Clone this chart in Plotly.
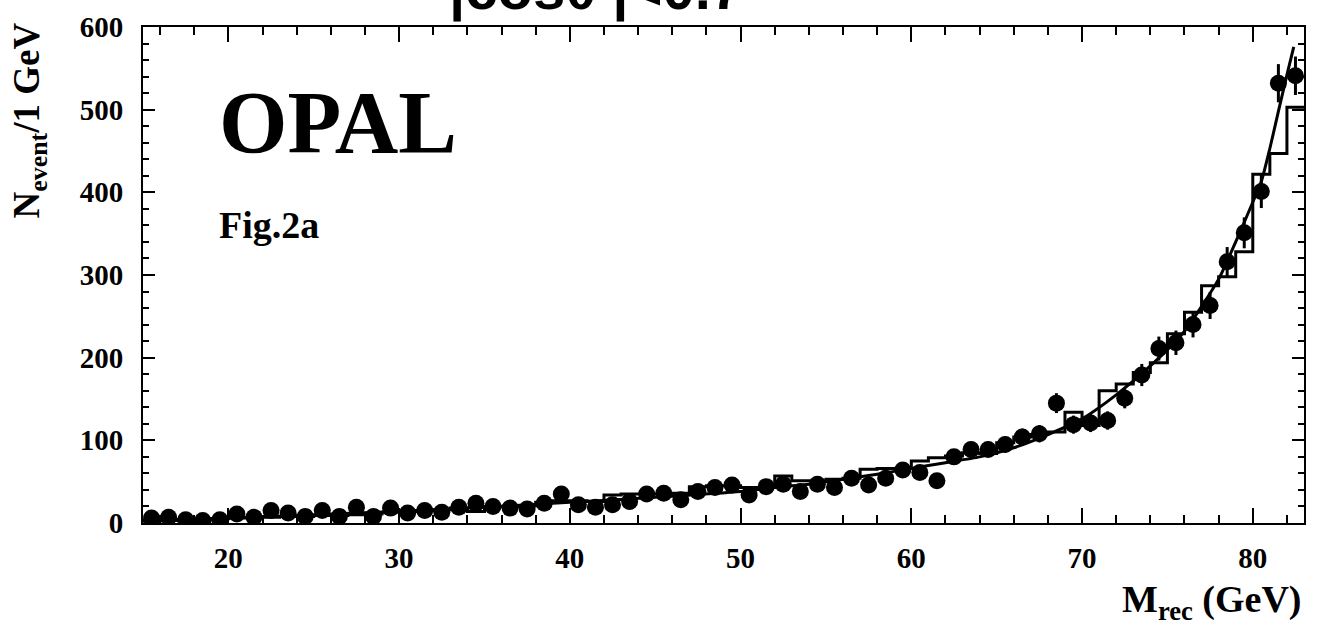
import plotly.graph_objects as go

# ---- data ----
mass = [15.5, 16.5, 17.5, 18.5, 19.5, 20.5, 21.5, 22.5, 23.5, 24.5,
        25.5, 26.5, 27.5, 28.5, 29.5, 30.5, 31.5, 32.5, 33.5, 34.5,
        35.5, 36.5, 37.5, 38.5, 39.5, 40.5, 41.5, 42.5, 43.5, 44.5,
        45.5, 46.5, 47.5, 48.5, 49.5, 50.5, 51.5, 52.5, 53.5, 54.5,
        55.5, 56.5, 57.5, 58.5, 59.5, 60.5, 61.5, 62.5, 63.5, 64.5,
        65.5, 66.5, 67.5, 68.5, 69.5, 70.5, 71.5, 72.5, 73.5, 74.5,
        75.5, 76.5, 77.5, 78.5, 79.5, 80.5, 81.5, 82.5]

data_counts = [6, 7, 4, 3, 4, 11, 7, 15, 12, 8,
               15, 8, 19, 8, 18, 12, 15, 13, 19, 24,
               20, 18, 17, 24, 35, 22, 19, 22, 26, 35,
               36, 28, 38, 43, 46, 34, 44, 47, 38, 47,
               43, 54, 46, 54, 64, 61, 51, 80, 89, 89,
               95, 104, 108, 145, 119, 121, 124, 151, 179, 211,
               218, 240, 263, 316, 351, 401, 532, 541]

data_errors = [2.4, 2.6, 2.0, 1.7, 2.0, 3.3, 2.6, 3.9, 3.5, 2.8,
               3.9, 2.8, 4.4, 2.8, 4.2, 3.5, 3.9, 3.6, 4.4, 4.9,
               4.5, 4.2, 4.1, 4.9, 5.9, 4.7, 4.4, 4.7, 5.1, 5.9,
               6.0, 5.3, 6.2, 6.6, 6.8, 5.8, 6.6, 6.9, 6.2, 6.9,
               6.6, 7.3, 6.8, 7.3, 8.0, 7.8, 7.1, 8.9, 9.4, 9.4,
               9.7, 10.2, 10.4, 12.0, 10.9, 11.0, 11.1, 12.3, 13.4, 14.5,
               14.8, 15.5, 16.2, 17.8, 18.7, 20.0, 23.1, 23.3]

bin_edges = [15, 16, 17, 18, 19, 20, 21, 22, 23, 24, 25, 26, 27, 28, 29,
             30, 31, 32, 33, 34, 35, 36, 37, 38, 39, 40, 41, 42, 43, 44,
             45, 46, 47, 48, 49, 50, 51, 52, 53, 54, 55, 56, 57, 58, 59,
             60, 61, 62, 63, 64, 65, 66, 67, 68, 69, 70, 71, 72, 73, 74,
             75, 76, 77, 78, 79, 80, 81, 82, 83]

mc_counts = [2, 3, 3, 4, 5, 6, 6, 7, 8, 8,
             9, 9, 10, 11, 13, 14, 15, 16, 18, 14,
             20, 20, 21, 25, 27, 27, 26, 34, 35, 35,
             35, 36, 44, 45, 45, 43, 43, 57, 51, 51,
             53, 54, 65, 66, 66, 75, 79, 81, 85, 84,
             97, 104, 107, 110, 134, 118, 160, 168, 182, 194,
             229, 255, 287, 298, 328, 422, 447, 503]

fit_x = [15, 20, 25, 30, 35, 40, 45, 50, 52, 54, 56, 58, 60, 62, 64, 66,
         68, 70, 72, 74, 76, 78, 79, 80, 80.5, 81, 81.5, 82, 82.4]
fit_y = [3, 6, 10, 14, 19, 25, 31, 38, 43, 47, 53, 59, 66, 73, 80, 91,
         107, 126, 155, 190, 232, 295, 340, 388, 413, 453, 498, 542, 576]

x_ticks = [20, 30, 40, 50, 60, 70, 80]
y_ticks = [0, 100, 200, 300, 400, 500, 600]

SERIF = "Liberation Serif"

fig = go.Figure()

# MC histogram (step line)
fig.add_trace(go.Scatter(
    x=bin_edges, y=mc_counts + [mc_counts[-1]],
    mode="lines", line=dict(color="black", width=3, shape="hv"),
    showlegend=False, hoverinfo="skip"))

# fit curve
fig.add_trace(go.Scatter(
    x=fit_x, y=fit_y, mode="lines",
    line=dict(color="black", width=3, shape="spline", smoothing=0.6),
    showlegend=False, hoverinfo="skip"))

# data points
fig.add_trace(go.Scatter(
    x=mass, y=data_counts, mode="markers",
    marker=dict(color="black", size=17, symbol="circle"),
    error_y=dict(type="data", array=data_errors, visible=True,
                 color="black", thickness=3, width=0),
    showlegend=False))

axis_common = dict(
    showgrid=False, zeroline=False, showline=True, linecolor="black",
    linewidth=2, mirror="allticks", ticks="inside", tickcolor="black",
    tickfont=dict(family=SERIF, size=29, color="black", weight="bold"),
)

fig.update_xaxes(
    range=[15, 83], tickvals=x_ticks, ticklen=15, tickwidth=1.5,
    minor=dict(dtick=2, tick0=0, ticks="inside", ticklen=8,
               tickcolor="black", tickwidth=1.5),
    ticklabelstandoff=8, **axis_common)

fig.update_yaxes(
    range=[0, 600], tickvals=y_ticks, ticklen=12, tickwidth=1.5,
    minor=dict(dtick=20, tick0=0, ticks="inside", ticklen=6,
               tickcolor="black", tickwidth=1.5),
    ticklabelstandoff=12, **axis_common)

annotations = [
    dict(text="|cosθ<sup>*</sup>|<0.7", xref="paper", yref="paper",
         x=0.390, y=1.0, xanchor="center", yanchor="bottom", yshift=3,
         showarrow=False,
         font=dict(family="Liberation Sans", size=58, color="black",
                   weight="bold")),
    dict(text="N<sub>event</sub>/1 GeV", xref="paper", yref="paper",
         x=-0.098, y=0.812, xanchor="center", yanchor="middle",
         textangle=-90, showarrow=False,
         font=dict(family=SERIF, size=37, color="black", weight="bold")),
    dict(text="M<sub>rec</sub> (GeV)", xref="paper", yref="paper",
         x=1.0, y=-0.16, xanchor="right", yanchor="middle",
         showarrow=False,
         font=dict(family=SERIF, size=38, color="black", weight="bold")),
    dict(text="OPAL", xref="paper", yref="paper",
         x=0.064, y=0.808, xanchor="left", yanchor="middle",
         showarrow=False,
         font=dict(family=SERIF, size=88, color="black", weight="bold")),
    dict(text="Fig.2a", xref="paper", yref="paper",
         x=0.064, y=0.600, xanchor="left", yanchor="middle",
         showarrow=False,
         font=dict(family=SERIF, size=38, color="black", weight="bold")),
]

fig.update_layout(
    width=1317, height=631,
    margin=dict(l=143, r=11, t=20, b=108),
    paper_bgcolor="white", plot_bgcolor="white",
    annotations=annotations,
)

fig.write_html("out.html")
